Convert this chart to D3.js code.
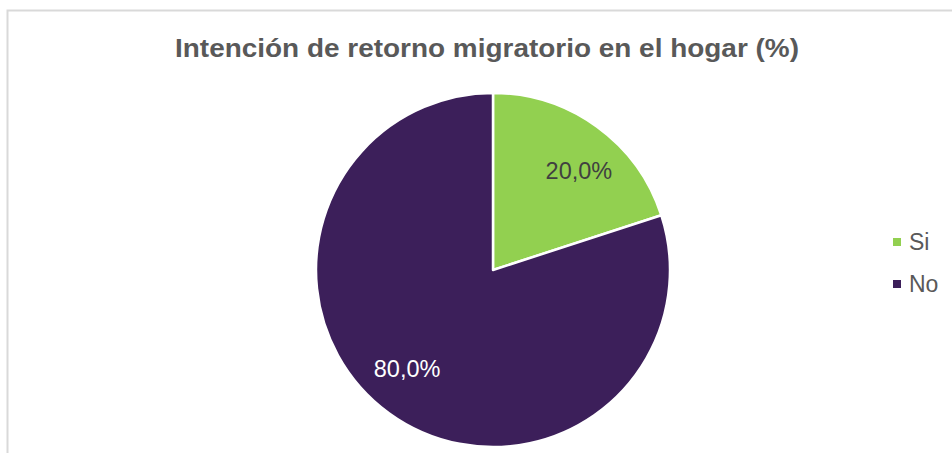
<!DOCTYPE html>
<html>
<head>
<meta charset="utf-8">
<script src="https://cdn.jsdelivr.net/npm/d3@7"></script>
<style>
  body { margin: 0; background: #fff; }
</style>
</head>
<body>
<div id="chart"></div>
<script>
var categories = ["Si", "No"];
var values = [20.0, 80.0];
var labels = ["20,0%", "80,0%"];
var colors = ["#92D050", "#3C1F5A"];
var labelColors = ["#404040", "#ffffff"];

var width = 952, height = 453;
var cx = 493, cy = 270, radius = 177;

var svg = d3.select("#chart")
    .append("svg")
        .attr("width", width)
        .attr("height", height)
        .attr("font-family", "'Liberation Sans', Arial, Helvetica, sans-serif");

svg.append("rect")
    .attr("x", 7.5)
    .attr("y", 10.5)
    .attr("width", 1000)
    .attr("height", 1000)
    .attr("fill", "#fff")
    .attr("stroke", "#d9d9d9")
    .attr("stroke-width", 2);

svg.append("text")
    .attr("x", 175)
    .attr("y", 57)
    .attr("font-size", 26)
    .attr("font-weight", "bold")
    .attr("fill", "#595959")
    .attr("textLength", 624)
    .attr("lengthAdjust", "spacingAndGlyphs")
    .text("Intención de retorno migratorio en el hogar (%)");

var color = d3.scaleOrdinal().domain(categories).range(colors);

var pie = d3.pie().sort(null).value(function(d, i) { return values[i]; });
var arcs = pie(categories);

var arc = d3.arc().innerRadius(0).outerRadius(radius);

// label sits a bit past the slice middle, like Excel's best fit
var labelPos = function(d) {
  var a = (d.startAngle + d.endAngle) / 2 + 5 * Math.PI / 180;
  var r = radius * 0.74;
  return [r * Math.sin(a), -r * Math.cos(a)];
};

var g = svg.append("g")
    .attr("transform", "translate(" + cx + "," + cy + ")");

g.selectAll("path")
    .data(arcs)
    .enter()
    .append("path")
        .attr("d", arc)
        .attr("fill", function(d) { return color(d.data); })
        .attr("stroke", "#fff")
        .attr("stroke-width", 2.5)
        .attr("stroke-linejoin", "round");

g.selectAll("text.lbl")
    .data(arcs)
    .enter()
    .append("text")
        .attr("class", "lbl")
        .attr("transform", function(d) { return "translate(" + labelPos(d) + ")"; })
        .attr("text-anchor", "middle")
        .attr("dy", "0.35em")
        .attr("font-size", 23.5)
        .attr("fill", function(d, i) { return labelColors[i]; })
        .text(function(d, i) { return labels[i]; });

// legend
var legend = svg.selectAll("g.legend")
    .data(categories)
    .enter()
    .append("g")
        .attr("class", "legend")
        .attr("transform", function(d, i) { return "translate(893," + (242 + i * 42) + ")"; });

legend.append("rect")
    .attr("x", 0)
    .attr("y", -4)
    .attr("width", 8)
    .attr("height", 8)
    .attr("fill", function(d) { return color(d); });

legend.append("text")
    .attr("x", 16)
    .attr("y", 7.5)
    .attr("font-size", 23)
    .attr("fill", "#595959")
    .text(function(d) { return d; });
</script>
</body>
</html>
